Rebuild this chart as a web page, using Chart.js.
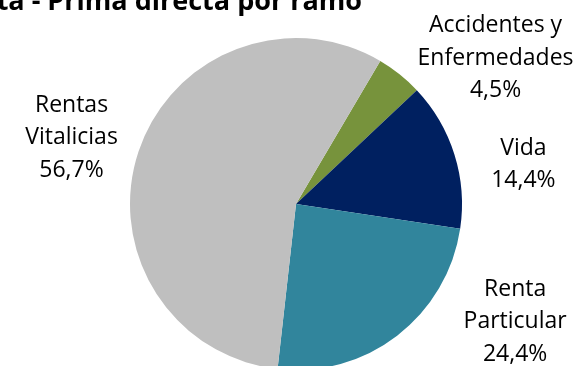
<!DOCTYPE html>
<html>
<head>
<meta charset="utf-8">
<script src="https://cdn.jsdelivr.net/npm/chart.js@4/dist/chart.umd.min.js"></script>
<style>
  html, body { margin: 0; padding: 0; background: #fff; overflow: hidden; }
  #wrap { width: 581px; height: 400px; }
</style>
</head>
<body>
<div id="wrap"><canvas id="pieChart"></canvas></div>
<script>
// data
const ramos = [['Accidentes y', 'Enfermedades'], ['Vida'], ['Renta', 'Particular'], ['Rentas', 'Vitalicias']];
const participacion = [4.5, 14.4, 24.4, 56.7];
const colores = ['#77933C', '#002060', '#31859C', '#BFBFBF'];
const titulo = 'Venta - Prima directa por ramo';

// label nudges from the slice edge (like hand-moved excel labels)
const labelOffsets = [[96, -16], [69, 10], [118, -14], [-67, -14]];

const fmt = v => v.toFixed(1).replace('.', ',') + '%';

const outsideLabels = {
    id: 'outsideLabels',
    afterDraw(chart) {
        const ctx = chart.ctx;
        const meta = chart.getDatasetMeta(0);
        ctx.save();
        ctx.fillStyle = '#000';
        ctx.font = '23px "Open Sans"';
        ctx.textAlign = 'center';
        ctx.textBaseline = 'middle';
        meta.data.forEach((arc, i) => {
            const mid = (arc.startAngle + arc.endAngle) / 2;
            const x = arc.x + Math.cos(mid) * arc.outerRadius + labelOffsets[i][0];
            const y = arc.y + Math.sin(mid) * arc.outerRadius + labelOffsets[i][1];
            const lines = ramos[i].concat([fmt(participacion[i])]);
            const lh = 32.5;
            lines.forEach((t, j) => {
                ctx.fillText(t, x, y + (j - (lines.length - 1) / 2) * lh);
            });
        });
        // title, cut at the top like the original
        ctx.font = 'bold 27px "Open Sans"';
        ctx.textAlign = 'right';
        ctx.textBaseline = 'alphabetic';
        ctx.fillText(titulo, 362, 10);
        ctx.restore();
    }
};

new Chart(document.getElementById('pieChart'), {
    type: 'pie',
    data: {
        labels: ramos.map(r => r.join(' ')),
        datasets: [{
            data: participacion,
            backgroundColor: colores,
            borderWidth: 0
        }]
    },
    options: {
        responsive: true,
        maintainAspectRatio: false,
        animation: false,
        rotation: 30.5,
        layout: {
            padding: { top: 38, bottom: 30, left: 130, right: 119 }
        },
        plugins: {
            legend: { display: false },
            tooltip: { enabled: false }
        }
    },
    plugins: [outsideLabels]
});
</script>
</body>
</html>
